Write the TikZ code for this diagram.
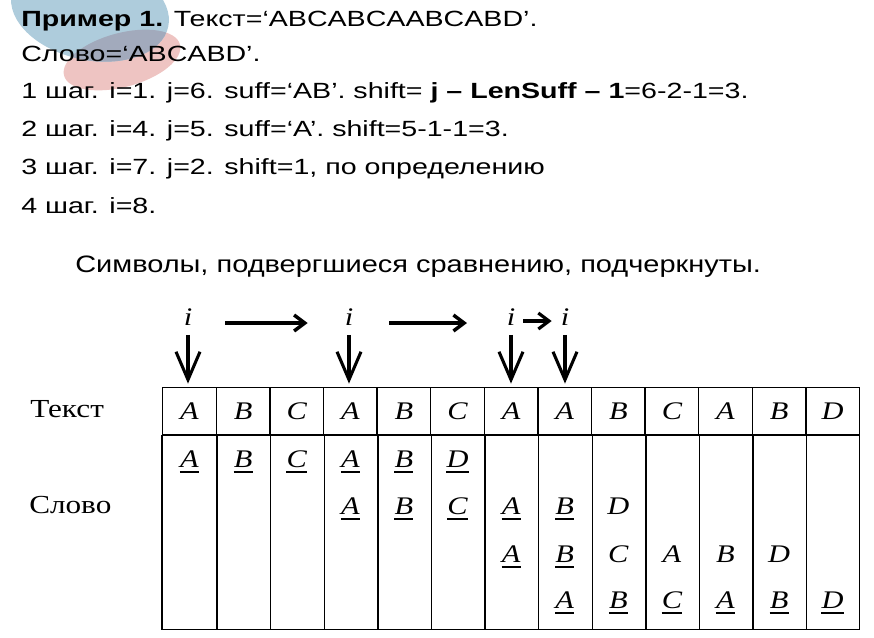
\documentclass[tikz,border=0pt]{standalone}
\usepackage{fontspec}
\setmainfont[FakeStretch=1.3]{Liberation Sans}
\newfontfamily\notefont[FakeStretch=1.22]{Liberation Sans}
\newfontfamily\tabfont[FakeStretch=1.2]{Liberation Serif}
\usetikzlibrary{arrows.meta}

\definecolor{logoblue}{RGB}{174,204,220}
\definecolor{logopink}{RGB}{238,196,194}
\definecolor{logogrey}{RGB}{162,170,188}

\tikzset{
    txt/.style={anchor=base west, inner sep=0, font=\fontsize{16.5}{19}\selectfont},
    cell/.style={draw, line width=1.1pt, minimum width=40.2pt, minimum height=35.5pt,
        inner sep=0, font=\tabfont\itshape\fontsize{19}{22}\selectfont},
    letter/.style={anchor=base, inner sep=0, font=\tabfont\itshape\fontsize{19}{22}\selectfont},
    uline/.style={line width=1.3pt},
    rowlabel/.style={anchor=base west, inner sep=0, font=\tabfont\fontsize{19.5}{22}\selectfont},
    ilabel/.style={inner sep=0, font=\tabfont\itshape\fontsize{19}{20}\selectfont},
    grid/.style={line width=1.1pt},
    down/.style={line width=2.3pt, -{Straight Barb[length=21pt,width=18pt]}},
    step right/.style={line width=2.6pt, -{Straight Barb[length=8pt,width=12pt]}}
}

\begin{document}
\begin{tikzpicture}[x=0.75pt,y=-0.75pt]
    \useasboundingbox (0,0) rectangle (874,637);

    % faint logo behind the heading
    \fill[logopink] (122,60) ellipse [x radius=60, y radius=27, rotate=15];
    \fill[logoblue] (90,10) ellipse [x radius=80, y radius=50, rotate=-12];
    \begin{scope}
        \clip (122,60) ellipse [x radius=60, y radius=27, rotate=15];
        \fill[logogrey] (90,10) ellipse [x radius=80, y radius=50, rotate=-12];
    \end{scope}

    % heading text
    \node[txt] (l1) at (21,26) {\textbf{Пример 1.} Текст=‘ABCABCAABCABD’.};
    \node[txt] (l2) at (21,61) {Слово=‘ABCABD’.};
    \node[txt] (l3) at (21,98) {1 шаг. i=1. j=6. suff=‘AB’. shift= \textbf{j – LenSuff – 1}=6-2-1=3.};
    \node[txt] (l4) at (21,136) {2 шаг. i=4. j=5. suff=‘A’. shift=5-1-1=3.};
    \node[txt] (l5) at (21,174) {3 шаг. i=7. j=2. shift=1, по определению};
    \node[txt] (l6) at (21,213) {4 шаг. i=8.};
    \node[txt, font=\notefont\fontsize{17.8}{20}\selectfont] (note) at (75,272)
        {Символы, подвергшиеся сравнению, подчеркнуты.};

    % text row
    \foreach \c [count=\k] in {A,B,C,A,B,C,A,A,B,C,A,B,D}
        \node[cell] (t\k) at ({162.7+(\k-0.5)*53.6},411.35) {\c};

    % word rows
    \draw[grid] (t1.south west) rectangle (859.3,629.3);
    \foreach \k in {1,...,12}
        \draw[grid] (t\k.south east) -- ++(0,194.3);

    \foreach \r/\s/\u/\y in {1/0/6/467, 2/3/5/514, 3/6/2/562, 4/7/6/608}
        \foreach \c [count=\k] in {A,B,C,A,B,D} {
            \pgfmathtruncatemacro\col{\s+\k}
            \node[letter] (w\r\k) at ({162.7+(\col-0.5)*53.6},\y) {\c};
            \ifnum\k>\u\else
                \draw[uline] ([yshift=-4pt]w\r\k.base west) -- ([yshift=-4pt]w\r\k.base east);
            \fi
        }

    \node[rowlabel] (lbtext) at (30,417) {Текст};
    \node[rowlabel] (lbword) at (29,513) {Слово};

    % pointer i and its moves
    \node[ilabel] (i1) at (188,317) {i};
    \node[ilabel] (i2) at (349,317) {i};
    \node[ilabel] (i3) at (511,317) {i};
    \node[ilabel] (i4) at (565,317) {i};

    \foreach \a/\b in {1/1,2/4,3/7,4/8}
        \draw[down, shorten <=7pt, shorten >=2.5pt] (i\a) -- (i\a |- t\b.north);

    \draw[step right, shorten <=28pt, shorten >=31pt] ([yshift=-4.5pt]i1.center) -- ([yshift=-4.5pt]i2.center);
    \draw[step right, shorten <=30pt, shorten >=33pt] ([yshift=-4.5pt]i2.center) -- ([yshift=-4.5pt]i3.center);
    \draw[step right, line width=2.4pt, shorten <=9pt, shorten >=10pt] ([yshift=-3pt]i3.center) -- ([yshift=-3pt]i4.center);
\end{tikzpicture}
\end{document}
